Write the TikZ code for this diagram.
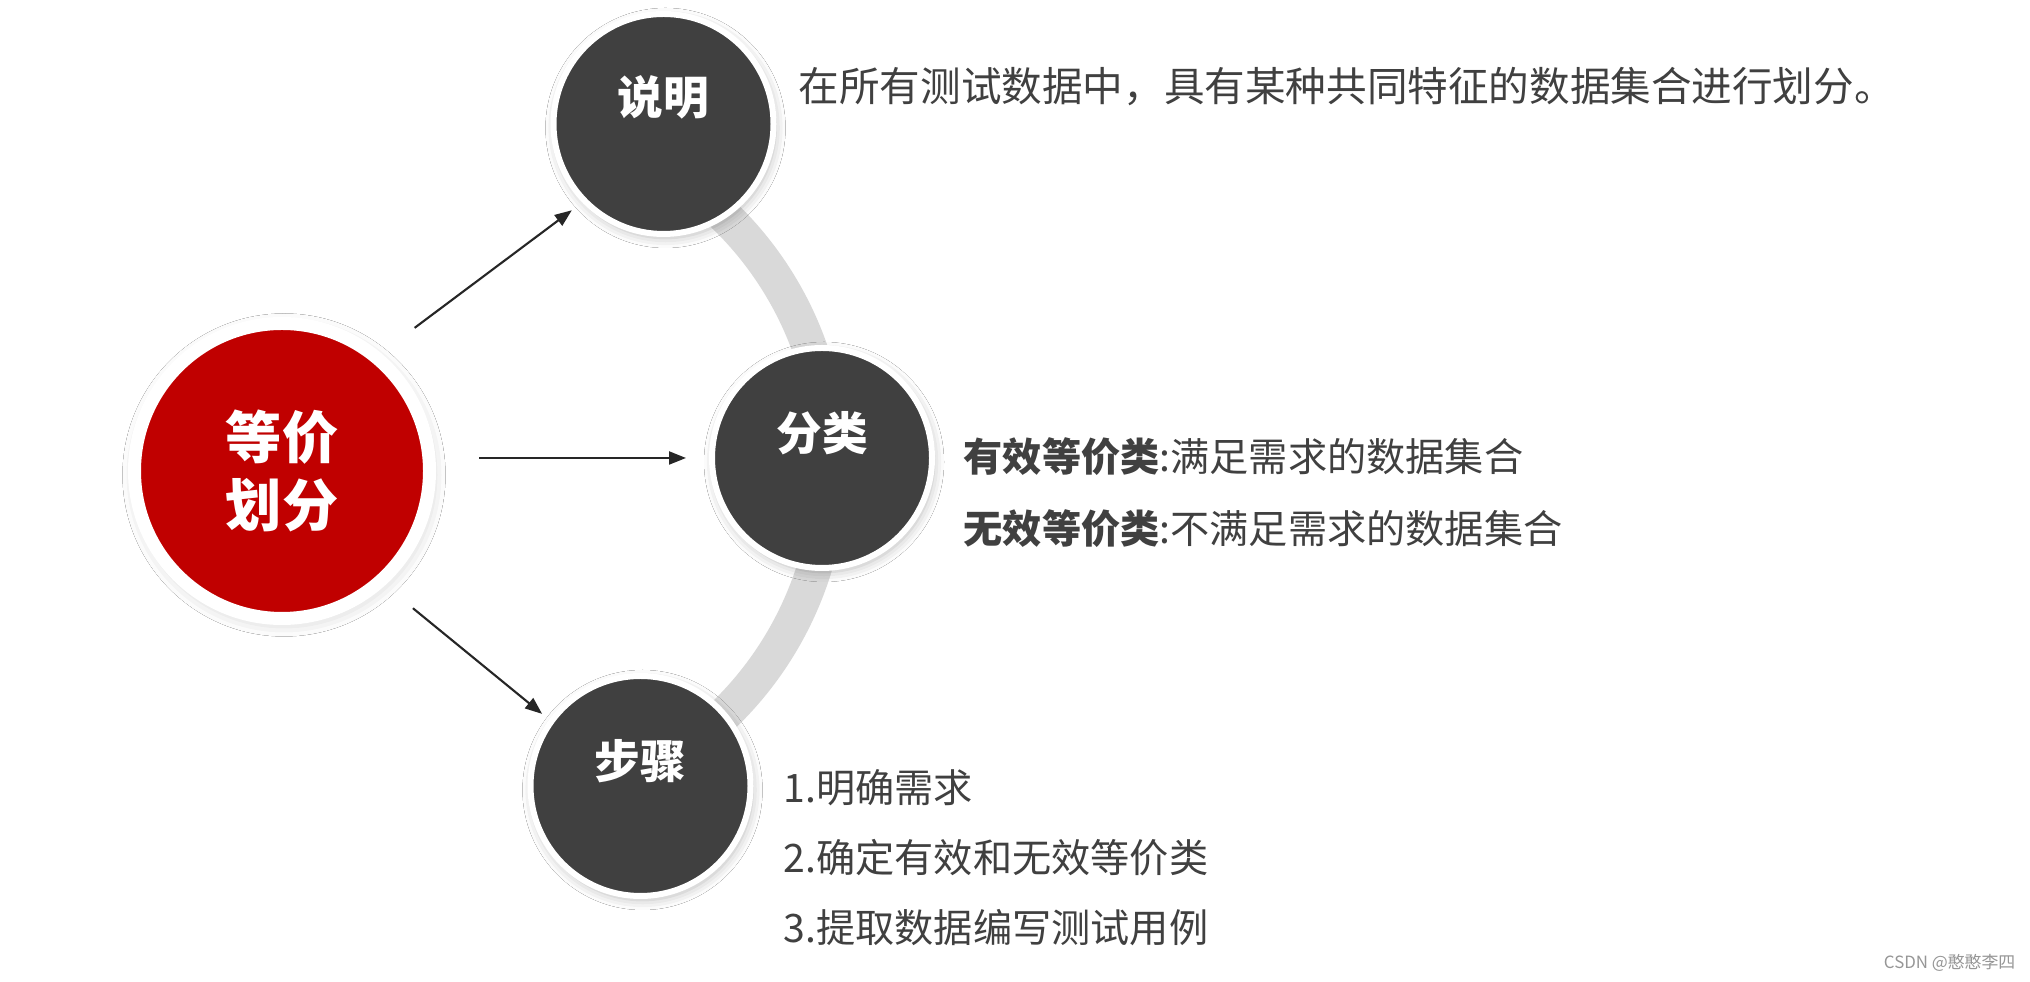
\documentclass[tikz,border=0pt]{standalone}
\usepackage{fontspec}
\setmainfont{Noto Sans CJK SC}
\usepackage{tikz}
\usetikzlibrary{arrows.meta,shadows.blur}
\definecolor{DeepRed}{RGB}{192,0,0}
\definecolor{Charcoal}{RGB}{64,64,64}
\definecolor{ArcGray}{RGB}{217,217,217}
\definecolor{InkGray}{RGB}{64,64,64}
\definecolor{MarkGray}{RGB}{150,150,150}

\begin{document}
\begin{tikzpicture}[
 core/.style={circle, fill=DeepRed, draw=white, line width=1.3mm, minimum size=2.95cm, inner sep=0pt,
   blur shadow={shadow xshift=0.2mm, shadow yshift=-0.4mm, shadow blur radius=1.4mm, shadow opacity=22}},
 topic/.style={circle, fill=Charcoal, draw=white, line width=0.6mm, minimum size=2.2cm, inner sep=0pt,
   blur shadow={shadow xshift=0.2mm, shadow yshift=-0.4mm, shadow blur radius=1mm, shadow opacity=28}},
 tag/.style={text=white, font=\bfseries\fontsize{13}{15}\selectfont},
 body/.style={anchor=west, inner sep=0pt, text=InkGray, font=\fontsize{11.15}{13}\selectfont},
 link/.style={-{Triangle[length=1.7mm,width=1.3mm]}, line width=0.6pt, draw=black!85},
 ring/.style={draw=ArcGray, line width=3.5mm}
]
\path[fill=white, use as bounding box] (0,0) rectangle (20.30,9.82);

\coordinate (hub) at (4.83,5.17);
\draw[ring] ([shift={(-68:3.47cm)}]hub) arc[start angle=-68, end angle=72, radius=3.47cm];

\node[core]  (eq) at (2.82,5.11) {};
\node[topic] (sm) at (6.635,8.58) {};
\node[topic] (fl) at (8.22,5.24) {};
\node[topic] (bz) at (6.405,1.96) {};

\node[text=white, align=center, font=\bfseries\fontsize{16}{19.6}\selectfont] (eqtag) at (eq.center) {等价\\划分};
\node[tag] (smtag) at ([yshift=2.7mm]sm.center) {说明};
\node[tag] (fltag) at ([yshift=2.5mm]fl.center) {分类};
\node[tag] (bztag) at ([yshift=2.5mm]bz.center) {步骤};

\draw[link, shorten <=4.2mm, shorten >=1.3mm] (eq.50.6) -- (sm.224.6);
\draw[link, shorten <=4.3mm, shorten >=2.3mm] (eq.east |- fl.west) -- (fl.west);
\draw[link, shorten <=3.6mm, shorten >=0.9mm] (eq.-48.3) -- (bz.144.7);

\node[body, font=\fontsize{11.55}{13}\selectfont] (smtext) at (7.98,8.95) {在所有测试数据中，具有某种共同特征的数据集合进行划分。};
\node[body] (valid)   at (9.63,5.25) {\textbf{有效等价类}:满足需求的数据集合};
\node[body] (invalid) at (9.63,4.53) {\textbf{无效等价类}:不满足需求的数据集合};
\node[body] (step1) at (7.83,1.94) {1.明确需求};
\node[body] (step2) at (7.83,1.24) {2.确定有效和无效等价类};
\node[body] (step3) at (7.83,0.54) {3.提取数据编写测试用例};

\node[anchor=east, inner sep=0pt, text=MarkGray, font=\fontsize{4.8}{6}\selectfont] (mark) at (20.16,0.19) {CSDN @憨憨李四};
\end{tikzpicture}
\end{document}
